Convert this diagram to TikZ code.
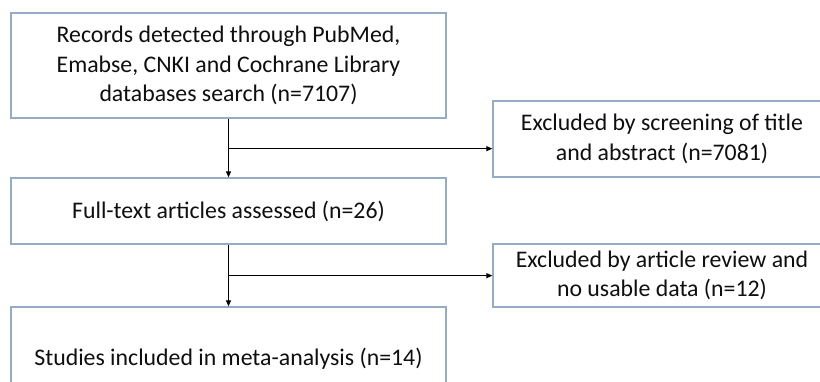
\documentclass[tikz,border=0pt]{standalone}
\usepackage{fontspec}
\setmainfont{Carlito}
\usetikzlibrary{arrows.meta}
\definecolor{boxline}{RGB}{150,172,196}
\definecolor{txt}{RGB}{15,15,15}
\begin{document}
\begin{tikzpicture}[x=1pt,y=-1pt,
  box/.style={draw=boxline,line width=1.3pt,fill=white,inner sep=0pt,
    align=center,text=txt,font=\fontsize{23.8}{29.5}\selectfont},
  conn/.style={draw=black,line width=1.1pt,-{Triangle[length=6pt,width=5pt]}}]
\useasboundingbox (0,0) rectangle (820,381);
\fill[white] (0,0) rectangle (820,381);
\node[box,minimum width=435pt,minimum height=105pt] (b1) at (228.5,65.5)
  {Records detected through PubMed,\\Emabse, CNKI and Cochrane Library\\databases search (n=7107)};
\node[box,minimum width=338pt,minimum height=76pt] (e1) at (662,139)
  {Excluded by screening of title\\and abstract (n=7081)};
\node[box,minimum width=435pt,minimum height=66pt] (b2) at (228.5,211)
  {Full-text articles assessed (n=26)};
\node[box,minimum width=338pt,minimum height=63pt] (e2) at (662,275.5)
  {Excluded by article review and\\no usable data (n=12)};
\node[box,minimum width=435pt,minimum height=103pt] (b3) at (228.5,358.5)
  {Studies included in meta-analysis (n=14)};
\coordinate (j1) at ([yshift=-30pt]b1.south);
\coordinate (j2) at ([yshift=-31pt]b2.south);
\draw[conn] (b1.south) -- (b2.north);
\draw[conn] (j1) -- (j1 -| e1.west);
\draw[conn] (b2.south) -- (b3.north);
\draw[conn] (j2) -- (j2 -| e2.west);
\end{tikzpicture}
\end{document}
